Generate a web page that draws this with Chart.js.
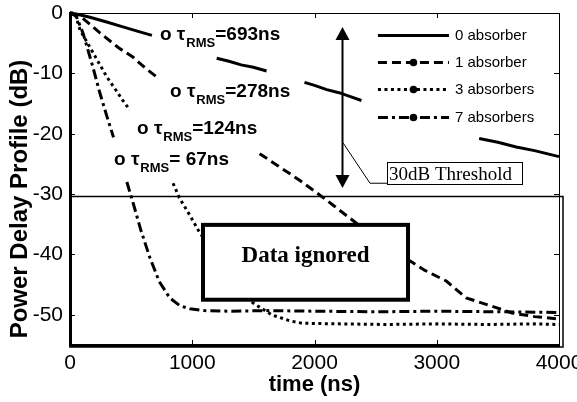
<!DOCTYPE html>
<html><head><meta charset="utf-8">
<script src="https://cdn.jsdelivr.net/npm/chart.js@4.4.1/dist/chart.umd.min.js"></script>
<style>html,body{margin:0;padding:0;background:#fff}#wrap{width:577px;height:402px}</style>
</head><body><div id="wrap"><canvas id="c" width="577" height="402"></canvas></div>
<script>
// ---- data ----
const seriesNames = ['0 absorber', '1 absorber', '3 absorbers', '7 absorbers'];
const xTickValues = [0, 1000, 2000, 3000, 4000];
const yTickValues = [0, -10, -20, -30, -40, -50];

const t0 = [0, 60, 163, 300, 433, 550, 670, 900, 1200, 1300, 1400, 1500, 1608, 1750, 1918, 2000, 2100, 2200, 2300, 2384, 2800, 3347, 3500, 3650, 3800, 3900, 4000];
const v0 = [0, -0.2, -0.7, -1.5, -2.3, -3.0, -3.7, null, -7.5, -8.0, -8.6, -9.0, -9.6, null, -11.5, -12.0, -12.7, -13.2, -13.9, -14.5, null, -20.8, -21.4, -22.2, -22.8, -23.3, -23.8];

const t1 = [0, 100, 245, 400, 514, 620, 710, 1100, 1551, 1700, 1878, 2000, 2150, 2367, 2776, 2900, 3078, 3241, 3486, 3616, 3800, 4000];
const v1 = [0, -0.8, -3.3, -5.8, -7.3, -9.2, -10.6, null, -23.3, -25.3, -27.7, -29.5, -31.8, -35.2, -41.0, -42.6, -44.4, -47.2, -48.8, -49.7, -50.3, -50.7];

const t2 = [0, 40, 82, 200, 302, 433, 490, 700, 843, 894, 980, 1061, 1494, 1650, 1800, 1900, 2200, 2600, 3000, 3400, 3800, 4000];
const v2 = [0, 0, -2.8, -7.0, -10.6, -14.5, -16.1, null, -28.2, -30.6, -33.5, -36.4, -48.0, -50.0, -51.0, -51.4, -51.5, -51.6, -51.5, -51.6, -51.5, -51.6];

const t3 = [0, 50, 106, 188, 245, 300, 356, 400, 465, 518, 580, 653, 730, 816, 900, 980, 1100, 1300, 1600, 2000, 2500, 3000, 3500, 4000];
const v3 = [0, -0.5, -3.3, -9.0, -13.3, -17.0, -20.6, null, -28.0, -31.6, -36.0, -40.5, -44.5, -47.2, -48.5, -49.0, -49.3, -49.4, -49.3, -49.4, -49.5, -49.4, -49.5, -49.6];

const tauTexts = ['=693ns', '=278ns', '=124ns', '= 67ns'];
const thresholdText = '30dB Threshold';
const ignoredText = 'Data ignored';

// ---- styling ----
const SANS = '"Liberation Sans", Arial, Helvetica, sans-serif';
const SERIF = '"Liberation Serif", "Times New Roman", serif';
const dashes = [[], [9, 5], [3, 3.5], [10, 4, 3, 4]];
const times = [t0, t1, t2, t3];
const vals = [v0, v1, v2, v3];

const datasets = seriesNames.map((name, k) => ({
  label: name,
  data: times[k].map((t, i) => ({ x: t, y: vals[k][i] })),
  borderColor: '#000',
  borderWidth: 3,
  borderDash: dashes[k],
  pointRadius: 0,
  fill: false,
  tension: 0,
  spanGaps: false,
  clip: 3
}));

// annotation anchors in data units
const tauAnchors = [[736, -4.47], [818, -13.9], [548, -20.05], [360, -25.2]];

const annot = {
  id: 'annot',
  afterDatasetsDraw(chart) {
    const ctx = chart.ctx, xs = chart.scales.x, ys = chart.scales.y, ca = chart.chartArea;
    const X = v => xs.getPixelForValue(v), Y = v => ys.getPixelForValue(v);
    ctx.save();
    ctx.strokeStyle = '#000'; ctx.fillStyle = '#000';
    const seg = (a, b, c, d) => { ctx.beginPath(); ctx.moveTo(a, b); ctx.lineTo(c, d); ctx.stroke(); };

    // frame: top and right (thin)
    ctx.lineWidth = 1;
    seg(ca.left, ca.top + 0.5, ca.right, ca.top + 0.5);
    seg(ca.right + 0.5, ca.top, ca.right + 0.5, ca.bottom);
    // inward ticks
    xs.ticks.forEach(t => {
      const px = Math.round(X(t.value)) + 0.5;
      seg(px, ca.bottom, px, ca.bottom - 5);
      seg(px, ca.top, px, ca.top + 5);
    });
    ys.ticks.forEach(t => {
      const py = Math.round(Y(t.value)) + 0.5;
      seg(ca.left, py, ca.left + 5, py);
      seg(ca.right, py, ca.right - 5, py);
    });

    // threshold region rectangle
    ctx.lineWidth = 1.5;
    const ty = Math.round(Y(-30.3)) + 0.5;
    ctx.strokeRect(ca.left, ty, ca.right + 4 - ca.left, ca.bottom + 2 - ty);

    // "Data ignored" box
    const bx1 = X(1088), bx2 = X(2765), by1 = Y(-35.1), by2 = Y(-47.5);
    ctx.fillStyle = '#fff';
    ctx.fillRect(bx1, by1, bx2 - bx1, by2 - by1);
    ctx.lineWidth = 4;
    ctx.strokeRect(bx1, by1, bx2 - bx1, by2 - by1);
    ctx.fillStyle = '#000';
    ctx.font = 'bold 23px ' + SERIF;
    ctx.textAlign = 'center'; ctx.textBaseline = 'alphabetic';
    ctx.fillText(ignoredText, (bx1 + bx2) / 2, by1 + 37);

    // double arrow
    const ax = Math.round(X(2225)) + 0.5, aTop = Y(-2.3), aBot = Y(-29.0);
    ctx.lineWidth = 2;
    seg(ax, aTop + 8, ax, aBot - 8);
    ctx.beginPath(); ctx.moveTo(ax, aTop); ctx.lineTo(ax - 7, aTop + 13); ctx.lineTo(ax + 7, aTop + 13); ctx.closePath(); ctx.fill();
    ctx.beginPath(); ctx.moveTo(ax, aBot); ctx.lineTo(ax - 7, aBot - 13); ctx.lineTo(ax + 7, aBot - 13); ctx.closePath(); ctx.fill();

    // callout line + threshold label box
    ctx.lineWidth = 1;
    ctx.beginPath(); ctx.moveTo(X(2233), Y(-21.5)); ctx.lineTo(X(2454), Y(-28.2)); ctx.lineTo(X(2593), Y(-28.2)); ctx.stroke();
    const tbx1 = X(2593), tbx2 = X(3700), tby1 = Y(-24.7), tby2 = Y(-28.3);
    ctx.fillStyle = '#fff'; ctx.fillRect(tbx1, tby1, tbx2 - tbx1, tby2 - tby1);
    ctx.strokeRect(Math.round(tbx1) + 0.5, Math.round(tby1) + 0.5, Math.round(tbx2 - tbx1), Math.round(tby2 - tby1));
    ctx.fillStyle = '#000';
    ctx.font = '19px ' + SERIF; ctx.textAlign = 'left';
    ctx.fillText(thresholdText, tbx1 + 2, tby2 - 4);

    // tau labels
    tauAnchors.forEach((a, i) => {
      let x = X(a[0]); const y = Y(a[1]);
      ctx.font = 'bold 19px ' + SANS; ctx.textAlign = 'left'; ctx.textBaseline = 'alphabetic';
      ctx.fillText('o', x, y);
      x += ctx.measureText('o ').width;
      ctx.fillText('\u03C4', x, y);
      x += ctx.measureText('\u03C4').width + 1;
      ctx.font = 'bold 13px ' + SANS;
      ctx.fillText('RMS', x, y + 7);
      x += ctx.measureText('RMS').width;
      ctx.font = 'bold 19px ' + SANS;
      ctx.fillText(tauTexts[i], x, y);
    });

    // legend
    const lx1 = X(2519), lx2 = X(3100);
    const rows = [-3.6, -8.1, -12.6, -17.2];
    datasets.forEach((ds, i) => {
      const ry = Math.round(Y(rows[i])) + 0.5;
      ctx.lineWidth = 3; ctx.setLineDash(ds.borderDash);
      seg(lx1, ry, lx2, ry);
      ctx.setLineDash([]);
      if (i > 0) { ctx.beginPath(); ctx.arc((lx1 + lx2) / 2, ry, 3.8, 0, Math.PI * 2); ctx.fill(); }
      ctx.font = '15px ' + SANS; ctx.textAlign = 'left'; ctx.textBaseline = 'middle';
      ctx.fillText(ds.label, lx2 + 6, ry);
    });

    // y axis title
    ctx.save();
    ctx.translate(20, 199);
    ctx.rotate(-Math.PI / 2);
    ctx.font = 'bold 24px ' + SANS; ctx.textAlign = 'center'; ctx.textBaseline = 'middle';
    ctx.fillText('Power Delay Profile (dB)', 0, 0);
    ctx.restore();

    ctx.restore();
  }
};

new Chart(document.getElementById('c'), {
  type: 'line',
  data: { datasets },
  options: {
    responsive: false, animation: false, devicePixelRatio: 1,
    layout: { padding: { top: 13, right: 18, left: 0, bottom: 0 } },
    plugins: { legend: { display: false }, tooltip: { enabled: false } },
    scales: {
      x: {
        type: 'linear', min: 0, max: 4000,
        ticks: { stepSize: 1000, padding: 6, color: '#000', maxRotation: 0, autoSkip: false,
                 font: { size: 21, family: SANS }, callback: v => String(v) },
        afterBuildTicks: s => { s.ticks = xTickValues.map(v => ({ value: v })); },
        grid: { display: false, drawTicks: false },
        border: { display: true, color: '#000', width: 3 },
        title: { display: true, text: 'time (ns)', color: '#000', font: { size: 22, weight: 'bold', family: SANS }, padding: { top: 0, bottom: 4 } },
        afterFit: s => { s.height = 57; s.paddingLeft = 0; s.paddingRight = 0; }
      },
      y: {
        type: 'linear', min: -55, max: 0,
        ticks: { stepSize: 10, padding: 7, color: '#000', font: { size: 21, family: SANS }, callback: v => String(v) },
        afterBuildTicks: s => { s.ticks = yTickValues.map(v => ({ value: v })); },
        grid: { display: false, drawTicks: false },
        border: { display: true, color: '#000', width: 3 },
        afterFit: s => { s.width = 70; s.paddingTop = 0; s.paddingBottom = 0; }
      }
    }
  },
  plugins: [annot]
});
</script>
</body></html>
